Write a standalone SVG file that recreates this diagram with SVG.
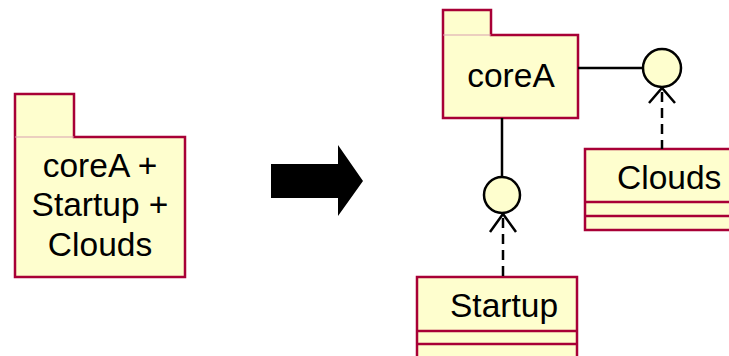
<svg xmlns="http://www.w3.org/2000/svg" width="729" height="356" viewBox="0 0 729 356">
<style>
.box{fill:#FEFECE;stroke:#A80036;stroke-width:2.5}
.sep{stroke:#A80036;stroke-width:2.5;fill:none}
.tabline{stroke:#D9A0B0;stroke-width:1;fill:none}
.lbl{font-family:"Liberation Sans",Arial,sans-serif;font-size:33.5px;fill:#000}
.conn{stroke:#000;stroke-width:2.5;fill:none}
.dash{stroke:#000;stroke-width:2.5;fill:none;stroke-dasharray:10 6}
.iface{fill:#FEFECE;stroke:#000;stroke-width:2.5}
</style>
<rect width="729" height="356" fill="#fff"/>
<g id="merged-package">
<path class="box" d="M15,94 H74 V137 H185 V277 H15 Z"/>
<line class="tabline" x1="15" y1="137" x2="74" y2="137"/>
<text class="lbl" x="100" y="177" text-anchor="middle">coreA +</text>
<text class="lbl" x="100" y="216" text-anchor="middle">Startup +</text>
<text class="lbl" x="100" y="256" text-anchor="middle">Clouds</text>
</g>
<g id="transform-arrow">
<polygon points="271,164 338,164 338,145 363,181 338,216 338,198 271,198" fill="#000"/>
</g>
<g id="coreA">
<path class="box" d="M443,10 H491 V35 H578 V118 H443 Z"/>
<line class="tabline" x1="443" y1="35" x2="491" y2="35"/>
<text class="lbl" x="511" y="87" text-anchor="middle">coreA</text>
</g>
<g id="Clouds">
<rect class="box" x="585" y="149" width="160" height="81"/>
<line class="sep" x1="585" y1="202" x2="745" y2="202"/>
<line class="sep" x1="585" y1="216" x2="745" y2="216"/>
<text class="lbl" x="617" y="189">Clouds</text>
</g>
<g id="Startup">
<rect class="box" x="417" y="277" width="160" height="100"/>
<line class="sep" x1="417" y1="331" x2="577" y2="331"/>
<line class="sep" x1="417" y1="344" x2="577" y2="344"/>
<text class="lbl" x="450" y="317">Startup</text>
</g>
<g id="connectors">
<line class="conn" x1="578" y1="68" x2="643" y2="68"/>
<line class="conn" x1="502" y1="118" x2="502" y2="177"/>
<line class="dash" x1="662" y1="92" x2="662" y2="149"/>
<polyline class="conn" points="649,103 662,88 675,103"/>
<line class="dash" x1="503" y1="218" x2="503" y2="277"/>
<polyline class="conn" points="490,232 503,214 516,232"/>
</g>
<g id="interface-clouds">
<ellipse class="iface" cx="662" cy="68" rx="19" ry="19"/>
</g>
<g id="interface-startup">
<ellipse class="iface" cx="502" cy="195" rx="18" ry="18"/>
</g>
</svg>
